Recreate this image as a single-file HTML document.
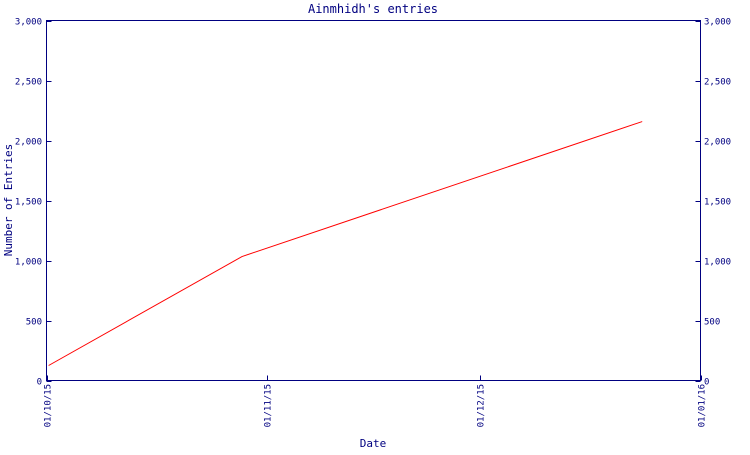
<!DOCTYPE html>
<html><head><meta charset="utf-8"><style>
body{margin:0;background:#fff;}
svg text{font-family:"DejaVu Sans Mono","Liberation Mono",monospace;fill:#000080;}
</style></head><body>
<svg width="750" height="450" xmlns="http://www.w3.org/2000/svg">
<text x="373" y="13" text-anchor="middle" font-size="12">Ainmhidh's entries</text>
<text x="373" y="447" text-anchor="middle" font-size="11">Date</text>
<text transform="translate(12,200) rotate(-90)" text-anchor="middle" font-size="11">Number of Entries</text>
<rect x="46.5" y="20.5" width="654" height="360" fill="none" stroke="#000080" stroke-width="1"/>
<g id="ticks"></g>
<polyline id="line" fill="none" stroke="#ff0000" stroke-width="1"/>
</svg>
<script>
const yTicks=[0,500,1000,1500,2000,2500,3000];
const yTickLabels=["0","500","1,000","1,500","2,000","2,500","3,000"];
const xTickDays=[0,31,61,92];
const xTickLabels=["01/10/15","01/11/15","01/12/15","01/01/16"];
const pointDays=[0.3,27.5,83.8];
const pointValues=[125,1033,2158];
const X0=46.5,X1=700.5,Y0=380.5,Y1=20.5,DMAX=92,VMAX=3000;
function xs(d){return X0+(X1-X0)*d/DMAX;}
function ys(v){return Y0-(Y0-Y1)*v/VMAX;}
const NS="http://www.w3.org/2000/svg";
const g=document.getElementById('ticks');
function mk(t,a){const e=document.createElementNS(NS,t);for(const k in a)e.setAttribute(k,a[k]);g.appendChild(e);return e;}
yTicks.forEach((v,i)=>{
  const y=Math.round(ys(v))+0.5;
  const l1=mk('line',{x1:X0,x2:X0+5,y1:y,y2:y,stroke:'#000080'});
  
  
  const l2=mk('line',{x1:X1-5,x2:X1,y1:y,y2:y,stroke:'#000080'});
  
  
  const t1=mk('text',{x:42,y:y+3,'text-anchor':'end','font-size':'9'});
  t1.textContent=yTickLabels[i];
  
  
  const t2=mk('text',{x:704,y:y+3,'font-size':'9'});
  t2.textContent=yTickLabels[i];
  
  
});
xTickDays.forEach((d,i)=>{
  const x=Math.round(xs(d))+0.5;
  const l=mk('line',{x1:x,x2:x,y1:Y0-5,y2:Y0,stroke:'#000080'});
  
  
  const t=mk('text',{transform:`translate(${x+3},384) rotate(-90)`,'text-anchor':'end','font-size':'9'});
  t.textContent=xTickLabels[i];
  
  
});
document.getElementById('line').setAttribute('points',pointDays.map((d,i)=>xs(d)+','+ys(pointValues[i])).join(' '));
</script>
</body></html>
